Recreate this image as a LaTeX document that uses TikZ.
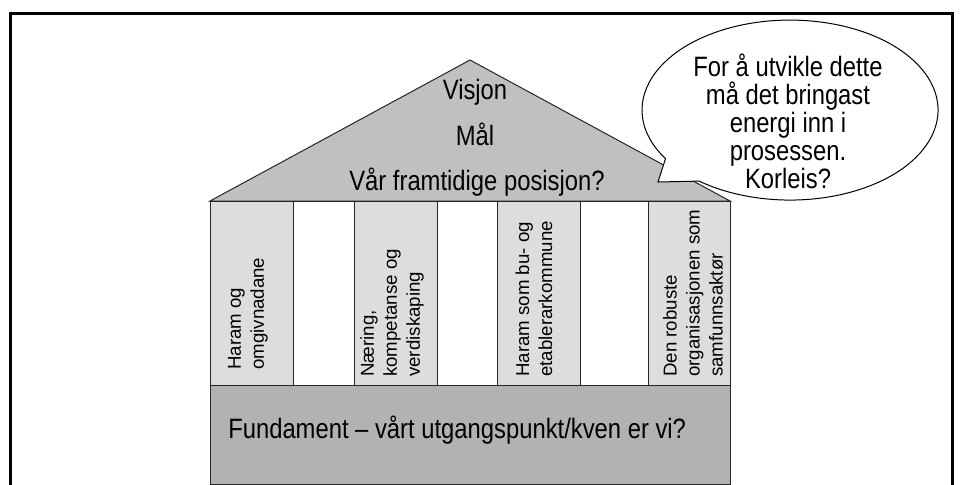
\documentclass[tikz,border=0pt]{standalone}
\usepackage{fontspec}
\setmainfont{Liberation Sans}[FakeStretch=0.85]
\newfontfamily\pillarfont{Liberation Sans}
\usetikzlibrary{positioning}
\definecolor{roofgray}{HTML}{C0C0C0}
\definecolor{pillargray}{HTML}{DDDDDD}
\definecolor{basegray}{HTML}{B2B2B2}
\tikzset{
    line/.style={
        draw=black!85,
        line width=0.75pt
    },
    frame/.style={
        draw=black,
        line width=2.25pt
    },
    pillar/.style={
        line,
        fill=pillargray
    },
    bigtext/.style={
        font=\fontsize{21}{21}\selectfont,
        inner sep=0pt
    },
    pillartext/.style={
        font=\pillarfont\fontsize{14}{17.25}\selectfont,
        rotate=90,
        anchor=west,
        align=left,
        inner sep=0pt
    }
}

\begin{document}
\begin{tikzpicture}[x=0.75pt, y=-0.75pt]
    \useasboundingbox (0, 0) rectangle (960, 485);
    % Frame:
    \draw [frame] (10, 14) rectangle (952, 500);
    % Roof:
    \begin{scope}
        \coordinate (apex) at (470, 60);
        \coordinate (eaveL) at (210, 201);
        \coordinate (eaveR) at (730, 201);
        \draw [line, fill=roofgray] (eaveL) -- (apex) -- (eaveR) -- cycle;
        \node [bigtext, anchor=base] (visjon) at (475, 99) {Visjon};
        \node [bigtext, anchor=base] (maal) at (475, 145) {Mål};
        \node [bigtext, anchor=base] (posisjon) at (477, 190) {Vår framtidige posisjon?};
    \end{scope}
    % Pillars:
    \begin{scope}
        \draw [line, fill=white] (210, 201) rectangle (730, 385);
        \draw [pillar] (210, 201) rectangle (293, 385);
        \draw [pillar] (354, 201) rectangle (437, 385);
        \draw [pillar] (497, 201) rectangle (580, 385);
        \draw [pillar] (648, 201) rectangle (730, 385);
        \node [pillartext] (omgivnad) at (248, 370) {Haram og\\omgivnadane};
        \node [pillartext] (naering) at (392, 377) {Næring,\\kompetanse og\\verdiskaping};
        \node [pillartext] (bukommune) at (534, 377) {Haram som bu- og\\etablerarkommune};
        \node [pillartext] (robuste) at (693, 377) {Den robuste\\organisasjonen som\\samfunnsaktør};
    \end{scope}
    % Foundation:
    \begin{scope}
        \draw [line, fill=basegray] (210, 385) rectangle (730, 484);
        \node [bigtext, anchor=base west] (fundament) at (228, 438) {Fundament – vårt utgangspunkt/kven er vi?};
    \end{scope}
    % Speech bubble:
    \begin{scope}
        \coordinate (tip) at (658, 182);
        \draw [line, draw=black, fill=white] (699.3, 181.1) -- (tip) -- (665.5, 158.7)
            arc [start angle=147.3, end angle=487.8, x radius=148, y radius=90] -- cycle;
        \node [bigtext, align=center] (energi) at (788, 121) {For å utvikle dette\\må det bringast\\energi inn i\\prosessen.\\Korleis?};
    \end{scope}
\end{tikzpicture}
\end{document}
